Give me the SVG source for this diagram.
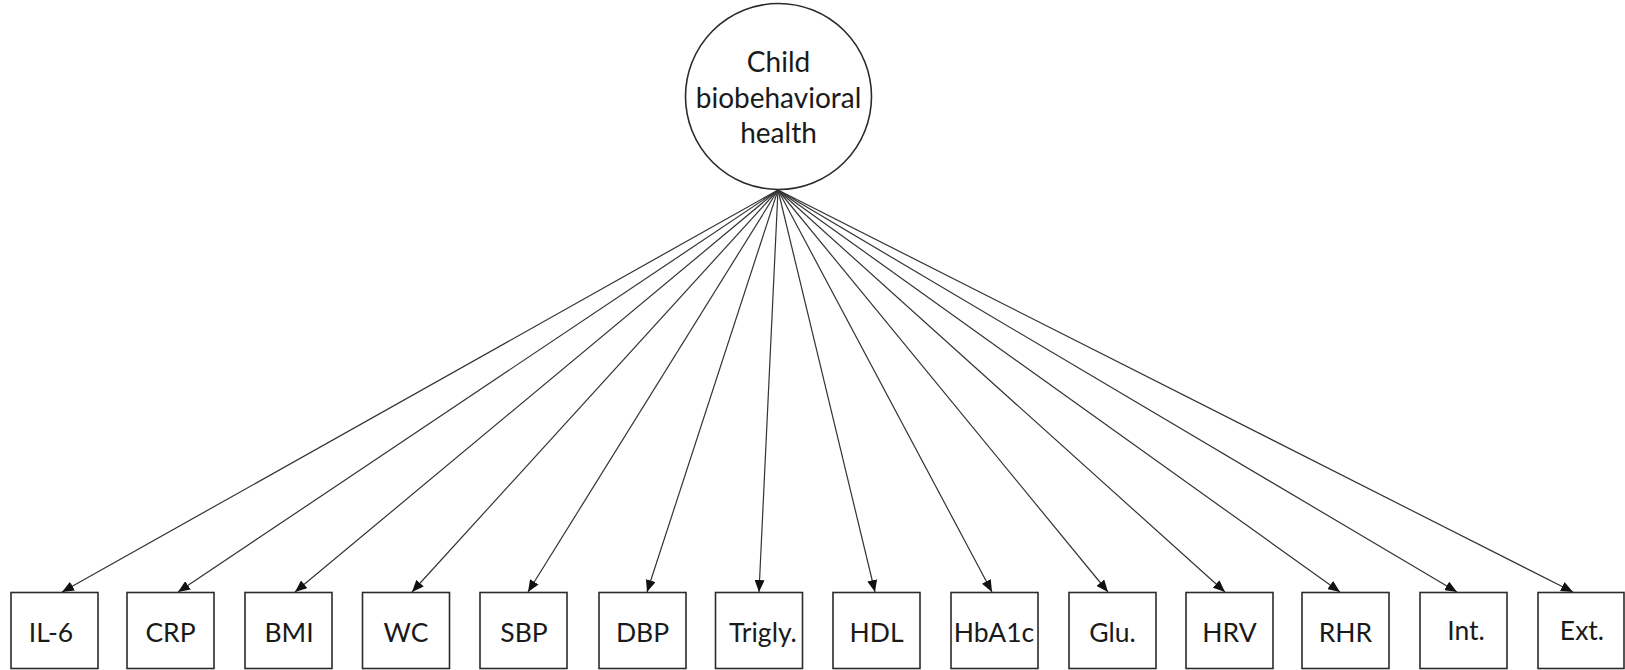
<svg xmlns="http://www.w3.org/2000/svg" width="1625" height="670" viewBox="0 0 1625 670">
  <style>
    .node-shape { fill: #ffffff; stroke: #2b2b2b; stroke-width: 1.6; }
    .label { font-family: Lato, "Open Sans", sans-serif; font-size: 26.5px; fill: #1a1a1a; text-anchor: middle; }
    .factor-label { font-size: 28px; }
    .edge { stroke: #333333; stroke-width: 1.2; fill: none; marker-end: url(#arrow); }
  </style>
  <defs>
    <marker id="arrow" viewBox="0 0 12 10" refX="12" refY="5" markerWidth="12" markerHeight="10" markerUnits="userSpaceOnUse" orient="auto">
      <path d="M0,0 L12,5 L0,10 z" fill="#111111"/>
    </marker>
  </defs>
  <rect width="1625" height="670" fill="#ffffff"/>

  <!-- latent factor -->
  <g id="latent">
    <circle class="node-shape" cx="778.5" cy="96.5" r="93"/>
    <text class="label factor-label" x="778.5" y="72">Child</text>
    <text class="label factor-label" x="778.5" y="108">biobehavioral</text>
    <text class="label factor-label" x="778.5" y="143">health</text>
  </g>

  <!-- loadings -->
  <g id="connectors">
    <line class="edge" x1="778" y1="190" x2="62" y2="592"/>
    <line class="edge" x1="778" y1="190" x2="178" y2="592"/>
    <line class="edge" x1="778" y1="190" x2="295" y2="592"/>
    <line class="edge" x1="778" y1="190" x2="412" y2="592"/>
    <line class="edge" x1="778" y1="190" x2="528" y2="592"/>
    <line class="edge" x1="778" y1="190" x2="647" y2="592"/>
    <line class="edge" x1="778" y1="190" x2="759" y2="592"/>
    <line class="edge" x1="778" y1="190" x2="875" y2="592"/>
    <line class="edge" x1="778" y1="190" x2="992" y2="592"/>
    <line class="edge" x1="778" y1="190" x2="1108" y2="592"/>
    <line class="edge" x1="778" y1="190" x2="1225" y2="592"/>
    <line class="edge" x1="778" y1="190" x2="1340" y2="592"/>
    <line class="edge" x1="778" y1="190" x2="1457" y2="592"/>
    <line class="edge" x1="778" y1="190" x2="1573" y2="592"/>
  </g>

  <!-- indicators -->
  <g id="il6"><rect class="node-shape" x="11" y="592.5" width="87" height="76"/><text class="label" x="51" y="642">IL-6</text></g>
  <g id="crp"><rect class="node-shape" x="127" y="592.5" width="87" height="76"/><text class="label" x="170.5" y="642">CRP</text></g>
  <g id="bmi"><rect class="node-shape" x="245" y="592.5" width="87" height="76"/><text class="label" x="289" y="642">BMI</text></g>
  <g id="wc"><rect class="node-shape" x="362.5" y="592.5" width="87" height="76"/><text class="label" x="406" y="642">WC</text></g>
  <g id="sbp"><rect class="node-shape" x="480" y="592.5" width="87" height="76"/><text class="label" x="524" y="642">SBP</text></g>
  <g id="dbp"><rect class="node-shape" x="599" y="592.5" width="87" height="76"/><text class="label" x="642.5" y="642">DBP</text></g>
  <g id="trigly"><rect class="node-shape" x="715.5" y="592.5" width="87" height="76"/><text class="label" x="763" y="642">Trigly.</text></g>
  <g id="hdl"><rect class="node-shape" x="833" y="592.5" width="87" height="76"/><text class="label" x="876.5" y="642">HDL</text></g>
  <g id="hba1c"><rect class="node-shape" x="951" y="592.5" width="87" height="76"/><text class="label" x="994" y="642">HbA1c</text></g>
  <g id="glu"><rect class="node-shape" x="1069" y="592.5" width="87" height="76"/><text class="label" x="1112.5" y="642">Glu.</text></g>
  <g id="hrv"><rect class="node-shape" x="1186" y="592.5" width="87" height="76"/><text class="label" x="1229.5" y="642">HRV</text></g>
  <g id="rhr"><rect class="node-shape" x="1302" y="592.5" width="87" height="76"/><text class="label" x="1345.5" y="642">RHR</text></g>
  <g id="int"><rect class="node-shape" x="1420" y="592.5" width="87" height="76"/><text class="label" x="1466" y="640">Int.</text></g>
  <g id="ext"><rect class="node-shape" x="1538" y="592.5" width="86" height="76"/><text class="label" x="1582" y="640">Ext.</text></g>
</svg>
